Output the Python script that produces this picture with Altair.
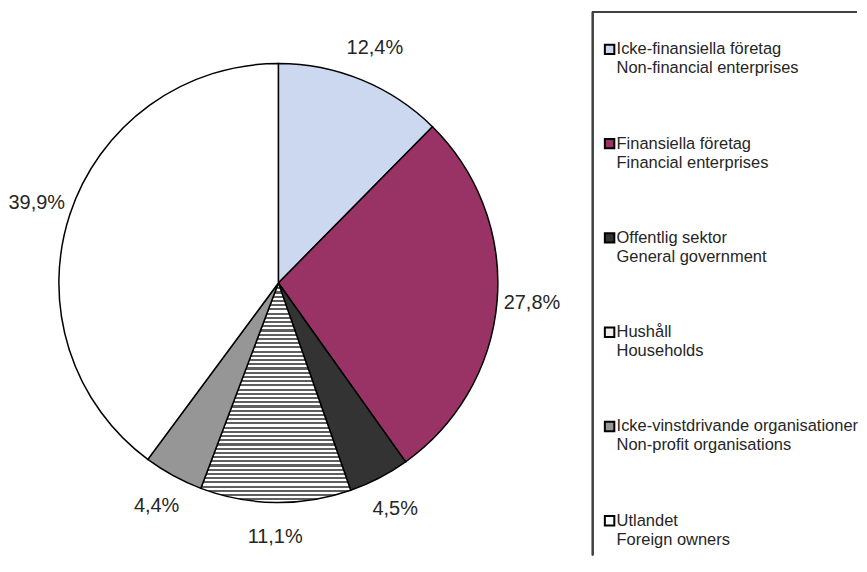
import altair as alt
import pandas as pd

# ---- data ----
cats_sv = [
    "Icke-finansiella företag",
    "Finansiella företag",
    "Offentlig sektor",
    "Hushåll",
    "Icke-vinstdrivande organisationer",
    "Utlandet",
]
cats_en = [
    "Non-financial enterprises",
    "Financial enterprises",
    "General government",
    "Households",
    "Non-profit organisations",
    "Foreign owners",
]
shares = [12.4, 27.8, 4.5, 11.1, 4.4, 39.9]
colors = ["#ccd8f0", "#993366", "#333333", "#eeeeee", "#969696", "#ffffff"]

df = pd.DataFrame({
    "idx": list(range(len(cats_sv))),
    "sv": cats_sv,
    "en": cats_en,
    "share": shares,
})

FONT = "Arial, Liberation Sans, sans-serif"
W, H = 851, 548
CX, CY = 271, 275          # pie centre inside the plot area
LEG_X = 586                # legend frame left edge

# horizontal stripe fill for "Hushåll"
n_stripes = 52
stops = []
for i in range(n_stripes):
    a = i / n_stripes
    m = (i + 0.5) / n_stripes
    b = (i + 1) / n_stripes
    stops += [
        {"offset": a, "color": "#5f5f5f"},
        {"offset": m, "color": "#5f5f5f"},
        {"offset": m, "color": "#ffffff"},
        {"offset": b, "color": "#ffffff"},
    ]
stripes = {"gradient": "linear", "x1": 0, "y1": 0, "x2": 0, "y2": 1, "stops": stops}

color_scale = alt.Scale(domain=cats_sv, range=colors)

base = alt.Chart(df).transform_calculate(
    label="replace(format(datum.share, '.1f'), '.', ',') + '%'"
).encode(
    theta=alt.Theta("share:Q", stack=True),
    order=alt.Order("idx:Q"),
    x=alt.value(CX),
    y=alt.value(CY),
)

arcs = base.mark_arc(outerRadius=220, stroke="black", strokeWidth=1.5).encode(
    color=alt.condition(
        alt.datum.sv == "Hushåll",
        alt.value(stripes),
        alt.Color("sv:N", scale=color_scale, legend=None),
    )
)

labels = base.mark_text(radius=255, fontSize=20, font=FONT, color="#262626").encode(
    text="label:N"
)

# ---- legend ----
rows = alt.Chart(df).encode(
    y=alt.Y(
        "sv:N",
        sort=cats_sv,
        axis=None,
        scale=alt.Scale(type="point", padding=0.4, align=0.54),
    )
)

squares = rows.mark_point(
    shape="square", size=90, filled=True, stroke="black", strokeWidth=2, opacity=1
).encode(
    x=alt.value(LEG_X + 17),
    fill=alt.Fill("sv:N", scale=color_scale, legend=None),
)

text_sv = rows.mark_text(
    align="left", baseline="middle", fontSize=16.5, font=FONT, color="#262626"
).encode(x=alt.value(LEG_X + 24), text="sv:N")

text_en = rows.mark_text(
    align="left", baseline="middle", fontSize=16.5, font=FONT, color="#262626", dy=19
).encode(x=alt.value(LEG_X + 24), text="en:N")

frame_left = alt.Chart(df).mark_rule(color="#404040", strokeWidth=1.5).encode(
    x=alt.value(LEG_X), y=alt.value(3), y2=alt.value(H)
)
frame_top = alt.Chart(df).mark_rule(color="#404040", strokeWidth=1.5).encode(
    x=alt.value(LEG_X), x2=alt.value(W), y=alt.value(3)
)

chart = (
    alt.layer(arcs, labels, frame_left, frame_top, squares, text_sv, text_en)
    .properties(width=W, height=H, padding=0)
    .configure_view(stroke=None)
)

chart.save("out.html", embed_options={"renderer": "svg", "actions": False})
